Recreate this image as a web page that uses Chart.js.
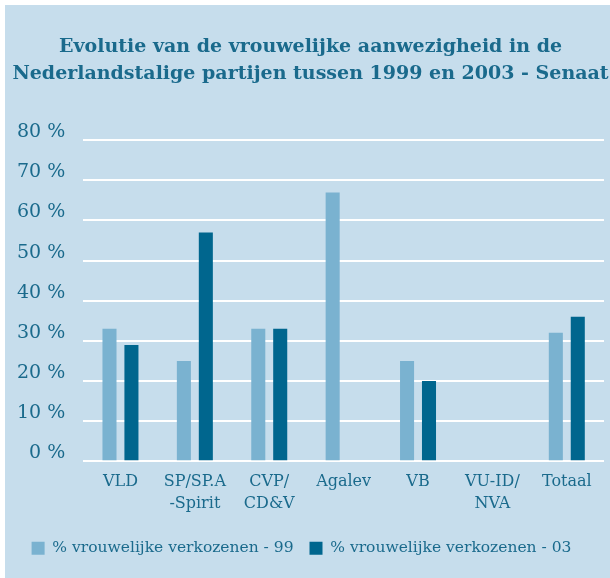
<!DOCTYPE html>
<html>
<head>
<meta charset="utf-8">
<script src="https://cdn.jsdelivr.net/npm/chart.js@4/dist/chart.umd.min.js"></script>
<style>
  html, body { margin: 0; padding: 0; background: #ffffff; }
  #wrap {
    position: absolute;
    left: 5px;
    top: 5px;
    width: 605px;
    height: 573px;
    background: #c6ddec;
  }
</style>
</head>
<body>
<div id="wrap"><canvas id="chart" width="605" height="573"></canvas></div>
<script>
const categories = [["VLD"], ["SP/SP.A", "-Spirit"], ["CVP/", "CD&V"], ["Agalev"], ["VB"], ["VU-ID/", "NVA"], ["Totaal"]];
const values99 = [33, 25, 33, 67, 25, 0, 32];
const values03 = [29, 57, 33, 0, 20, 0, 36];
const seriesNames = ["% vrouwelijke verkozenen - 99", "% vrouwelijke verkozenen - 03"];
const titleLines = ["Evolutie van de vrouwelijke aanwezigheid in de", "Nederlandstalige partijen tussen 1999 en 2003 - Senaat"];

const textColor = "#1a6a8c";

// title sits a little right of the layout centre in the original
const titleShift = {
  id: "titleShift",
  afterLayout(chart) {
    chart.titleBlock.left += 9;
    chart.titleBlock.right += 9;
  },
};

const ctx = document.getElementById("chart").getContext("2d");

new Chart(ctx, {
  type: "bar",
  data: {
    labels: categories,
    datasets: [
      {
        label: seriesNames[0],
        data: values99,
        backgroundColor: "#7ab2d0",
        categoryPercentage: 0.59,
        barPercentage: 0.64,
      },
      {
        label: seriesNames[1],
        data: values03,
        backgroundColor: "#00668e",
        categoryPercentage: 0.59,
        barPercentage: 0.64,
      },
    ],
  },
  options: {
    responsive: false,
    animation: false,
    layout: {
      padding: { left: -6, right: 6, top: 14, bottom: 12 },
    },
    scales: {
      y: {
        min: 0,
        max: 80,
        ticks: {
          stepSize: 10,
          color: textColor,
          padding: 18,
          labelOffset: -8,
          font: { family: "DejaVu Serif", size: 19 },
          callback: (v) => v + " %",
        },
        grid: {
          color: "#ffffff",
          lineWidth: 2,
          drawTicks: false,
        },
        border: { display: false },
      },
      x: {
        ticks: {
          color: textColor,
          padding: 10,
          font: { family: "DejaVu Serif", size: 16, lineHeight: 1.35 },
          maxRotation: 0,
          autoSkip: false,
        },
        grid: { display: false, drawTicks: false },
        border: { display: false },
      },
    },
    plugins: {
      title: {
        display: true,
        text: titleLines,
        color: textColor,
        font: { family: "DejaVu Serif", size: 19, weight: "bold", lineHeight: 1.4 },
        padding: { top: 15, bottom: 53 },
      },
      legend: {
        position: "bottom",
        labels: {
          color: textColor,
          boxWidth: 13,
          boxHeight: 13,
          padding: 16,
          font: { family: "DejaVu Serif", size: 15.5 },
        },
      },
      tooltip: { enabled: false },
    },
  },
  plugins: [titleShift],
});
</script>
</body>
</html>
